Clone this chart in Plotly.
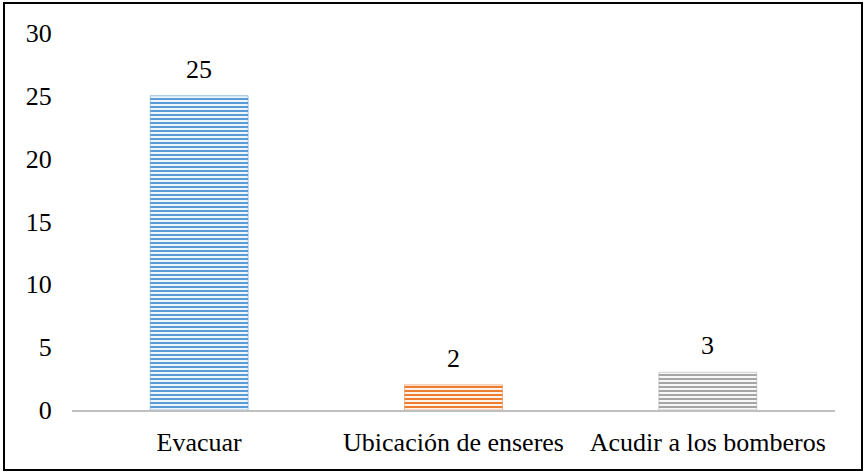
import plotly.graph_objects as go

categories = ["Evacuar", "Ubicación de enseres", "Acudir a los bomberos"]
values = [25, 2, 3]
fg_colors = ["#5b9bd5", "#ed7d31", "#a5a5a5"]
bg_colors = ["#cfe1f4", "#fbd2b5", "#e4e4e4"]
y_ticks = [0, 5, 10, 15, 20, 25, 30]

FONT = "Liberation Serif"
FS = 26

fig = go.Figure()
fig.add_trace(go.Bar(
    x=categories, y=values,
    marker=dict(
        color=fg_colors,
        line=dict(color=fg_colors, width=0.5),
        pattern=dict(shape="-", fgcolor=fg_colors, bgcolor=bg_colors,
                     size=4, solidity=0.55, fillmode="replace"),
    ),
    width=0.385,
    hoverinfo="x+y",
))

for c, v in zip(categories, values):
    fig.add_annotation(x=c, y=v, text=str(v), showarrow=False,
                       yanchor="bottom", yshift=10,
                       font=dict(family=FONT, size=FS, color="#000000"))

W, H = 865, 474
ml, mr, mt, mb = 72, 30, 33, 64
pw, ph = W - ml - mr, H - mt - mb

fig.update_layout(
    width=W, height=H,
    margin=dict(l=ml, r=mr, t=mt, b=mb),
    paper_bgcolor="white", plot_bgcolor="white",
    showlegend=False,
    font=dict(family=FONT, size=FS, color="#000000"),
    xaxis=dict(showline=True, linecolor="#bfbfbf", linewidth=2,
               ticks="outside", ticklen=8, tickcolor="rgba(0,0,0,0)",
               tickfont=dict(family=FONT, size=FS),
               showgrid=False, zeroline=False),
    yaxis=dict(range=[0, 30], tickvals=y_ticks, showgrid=False,
               zeroline=False, showline=False,
               tickfont=dict(family=FONT, size=FS),
               ticks="outside", ticklen=14, tickcolor="rgba(0,0,0,0)"),
    shapes=[dict(type="rect", xref="paper", yref="paper",
                 x0=(4 - ml) / pw, x1=(862 - ml) / pw,
                 y0=(H - mb - 470) / ph, y1=(H - mb - 3) / ph,
                 line=dict(color="black", width=2), layer="below")],
)

fig.write_html("out.html", config={"displayModeBar": False},
               post_script="document.body.style.margin='0';document.body.style.overflow='hidden';")
